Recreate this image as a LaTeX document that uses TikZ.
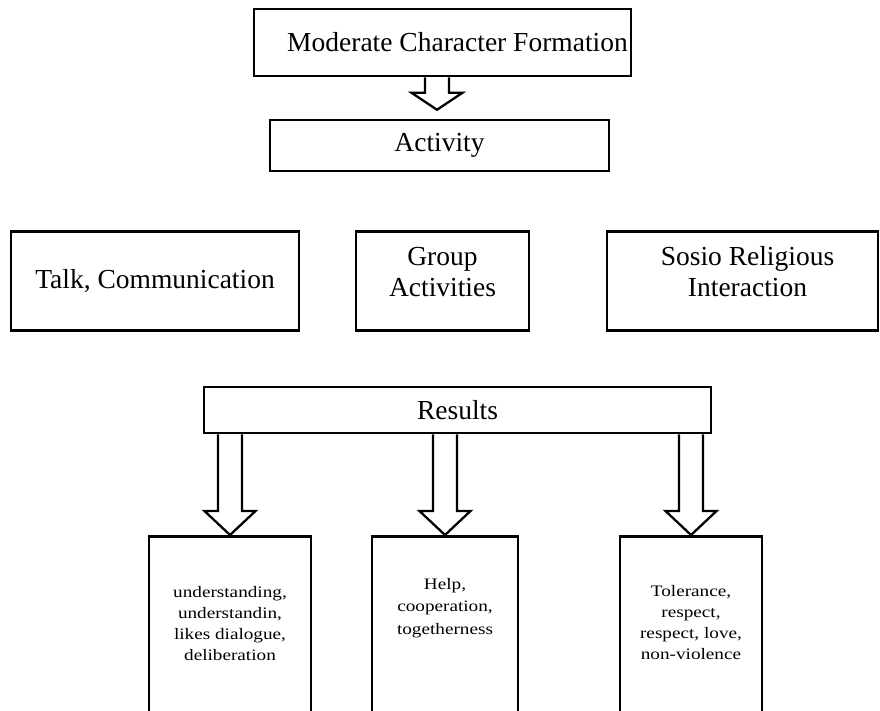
\documentclass[tikz,border=0pt]{standalone}
\usepackage{fontspec}
\setmainfont{Liberation Serif}
\newfontfamily\resultfont[FakeStretch=1.2]{Liberation Serif}
\usetikzlibrary{positioning,calc}

% hollow block arrow: from node, to point, head length
\newcommand{\hollowarrow}[3]{%
  \draw[hollow] let \p1=(#1.south), \p2=(#2) in
    (\x2-12pt,\y1) -- (\x2-12pt,\y2+#3) -- (\x2-25.5pt,\y2+#3) -- (\p2)
    -- (\x2+25.5pt,\y2+#3) -- (\x2+12pt,\y2+#3) -- (\x2+12pt,\y1);}

\begin{document}
\begin{tikzpicture}[
x=1pt,y=-1pt,
box/.style={
  draw,
  line width=2.5pt,
  inner sep=0pt,
  align=center,
  font=\fontsize{27.5}{31}\selectfont
},
boxtext/.style={
  align=center,
  inner sep=0pt,
  font=\fontsize{27.5}{31}\selectfont
},
result/.style={
  align=center,
  inner sep=0pt,
  font=\resultfont\fontsize{16}{21}\selectfont
},
hollow/.style={
  draw,
  line width=2.3pt,
  line join=miter
}
]
\clip (0,0) rectangle (880,710);

\node[box,minimum width=377pt,minimum height=67pt] at (442.5,42.5)
  (moderate) {};
\node[boxtext] at ([xshift=15pt]moderate.center) (moderatetext)
  {Moderate Character Formation};
\node[box,minimum width=339pt,minimum height=51pt] at (439.5,145.5)
  (activity) {Activity};

\node[box,minimum width=288pt,minimum height=99pt] at (155,281)
  (talk) {Talk, Communication};
\node[box,minimum width=173pt,minimum height=99pt] at (442.5,281)
  (group) {};
\node[boxtext] at ([yshift=9pt]group.center) (grouptext)
  {Group\\Activities};
\node[box,minimum width=271pt,minimum height=99pt] at (742.5,281)
  (sosio) {};
\node[boxtext] at ([xshift=5pt,yshift=9pt]sosio.center) (sosiotext)
  {Sosio Religious\\Interaction};

\node[box,minimum width=507pt,minimum height=46pt] at (457.5,410)
  (results) {Results};

\node[box,anchor=north,minimum width=162pt,minimum height=200pt] at (230,535)
  (res1) {};
\node[box,anchor=north,minimum width=146pt,minimum height=200pt] at (445,535)
  (res2) {};
\node[box,anchor=north,minimum width=142pt,minimum height=200pt] at (691,535)
  (res3) {};

\node[result,below=51pt of res1.north] (res1text)
  {understanding,\\understandin,\\likes dialogue,\\deliberation};
\node[result,below=43pt of res2.north,font=\resultfont\fontsize{16}{22.5}\selectfont] (res2text)
  {Help,\\cooperation,\\togetherness};
\node[result,below=50pt of res3.north] (res3text)
  {Tolerance,\\respect,\\respect, love,\\non-violence};

\coordinate (acttip) at ([xshift=-2.5pt,yshift=9pt]activity.north);
\hollowarrow{moderate}{acttip}{17pt}
\hollowarrow{results}{res1.north}{24pt}
\hollowarrow{results}{res2.north}{24pt}
\hollowarrow{results}{res3.north}{24pt}
\end{tikzpicture}
\end{document}
